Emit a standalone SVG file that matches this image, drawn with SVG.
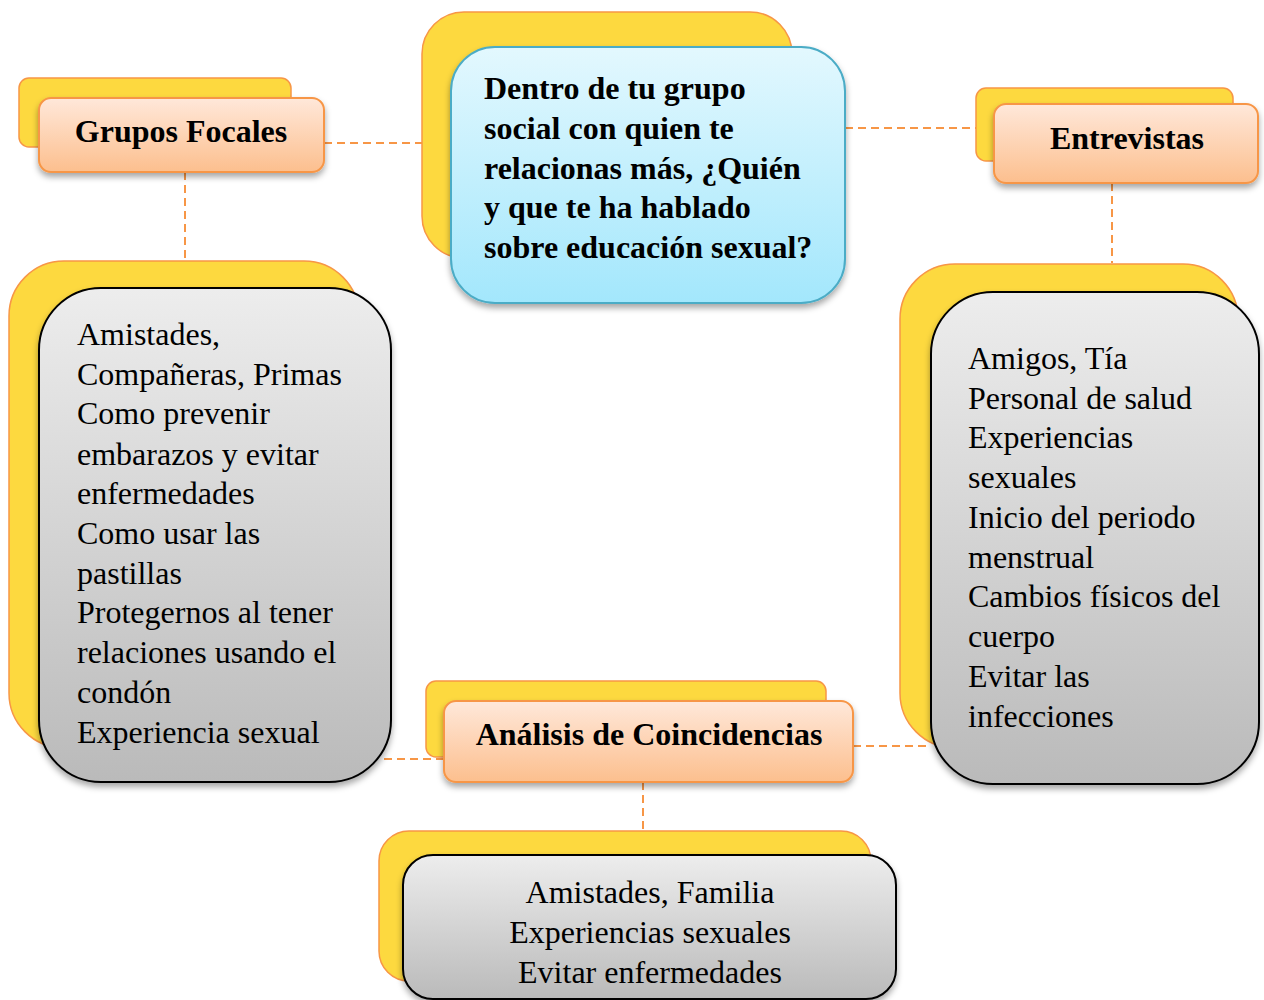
<svg xmlns="http://www.w3.org/2000/svg" width="1264" height="1000" viewBox="0 0 1264 1000">
<defs>
<linearGradient id="gOrange" x1="0" y1="0" x2="0" y2="1">
<stop offset="0" stop-color="#ffe8da"/>
<stop offset="1" stop-color="#fcbf8e"/>
</linearGradient>
<linearGradient id="gBlue" x1="0" y1="0" x2="0" y2="1">
<stop offset="0" stop-color="#e3f8fe"/>
<stop offset="1" stop-color="#a3e7fc"/>
</linearGradient>
<linearGradient id="gGray" x1="0" y1="0" x2="0" y2="1">
<stop offset="0" stop-color="#ededed"/>
<stop offset="1" stop-color="#bababa"/>
</linearGradient>
<filter id="shadow" x="-10%" y="-10%" width="120%" height="130%">
<feDropShadow dx="0" dy="4" stdDeviation="3" flood-color="#000" flood-opacity="0.35"/>
</filter>
</defs>
<style>
.back{fill:#fdd93f;stroke:#f79646;stroke-width:1.5}
.hdr{fill:url(#gOrange);stroke:#f79646;stroke-width:2;filter:url(#shadow)}
.blue{fill:url(#gBlue);stroke:#4bacc6;stroke-width:2;filter:url(#shadow)}
.gray{fill:url(#gGray);stroke:#000;stroke-width:2;filter:url(#shadow)}
.conn{fill:none;stroke:#f79646;stroke-width:2;stroke-dasharray:8 5}
.bt{font-family:"Liberation Serif","Times New Roman",serif;font-weight:bold;font-size:32px;fill:#000}
.rt{font-family:"Liberation Serif","Times New Roman",serif;font-size:32px;fill:#000}
</style>

<g id="connectors">
<line class="conn" x1="324" y1="143" x2="422" y2="143"/>
<line class="conn" x1="845" y1="128" x2="976" y2="128"/>
<line class="conn" x1="185" y1="172" x2="185" y2="262"/>
<line class="conn" x1="1112" y1="183" x2="1112" y2="263"/>
<line class="conn" x1="384" y1="759" x2="444" y2="759"/>
<line class="conn" x1="853" y1="746" x2="931" y2="746"/>
<line class="conn" x1="643" y1="782" x2="643" y2="831"/>
</g>

<g id="node-central">
<rect class="back" x="422" y="12" width="370" height="246" rx="42"/>
<rect class="blue" x="451" y="47" width="394" height="256" rx="44"/>
<text class="bt" x="484" y="99">Dentro de tu grupo</text>
<text class="bt" x="484" y="139">social con quien te</text>
<text class="bt" x="484" y="179">relacionas más, ¿Quién</text>
<text class="bt" x="484" y="218">y que te ha hablado</text>
<text class="bt" x="484" y="258">sobre educación sexual?</text>
</g>

<g id="node-grupos-focales">
<rect class="back" x="19" y="78" width="272" height="69" rx="10"/>
<rect class="hdr" x="39" y="98" width="285" height="74" rx="12"/>
<text class="bt" x="181" y="142" text-anchor="middle">Grupos Focales</text>
</g>

<g id="node-entrevistas">
<rect class="back" x="976" y="88" width="257" height="73" rx="10"/>
<rect class="hdr" x="994" y="104" width="264" height="79" rx="12"/>
<text class="bt" x="1127" y="149" text-anchor="middle">Entrevistas</text>
</g>

<g id="node-grupos-detalle">
<rect class="back" x="9" y="261" width="350" height="487" rx="55"/>
<rect class="gray" x="39" y="288" width="352" height="494" rx="62"/>
<text class="rt" x="77" y="345">Amistades,</text>
<text class="rt" x="77" y="385">Compañeras, Primas</text>
<text class="rt" x="77" y="424">Como prevenir</text>
<text class="rt" x="77" y="465">embarazos y evitar</text>
<text class="rt" x="77" y="504">enfermedades</text>
<text class="rt" x="77" y="544">Como usar las</text>
<text class="rt" x="77" y="584">pastillas</text>
<text class="rt" x="77" y="623">Protegernos al tener</text>
<text class="rt" x="77" y="663">relaciones usando el</text>
<text class="rt" x="77" y="703">condón</text>
<text class="rt" x="77" y="743">Experiencia sexual</text>
</g>

<g id="node-entrevistas-detalle">
<rect class="back" x="900" y="264" width="338" height="484" rx="55"/>
<rect class="gray" x="931" y="292" width="328" height="492" rx="62"/>
<text class="rt" x="968" y="369">Amigos, Tía</text>
<text class="rt" x="968" y="409">Personal de salud</text>
<text class="rt" x="968" y="448">Experiencias</text>
<text class="rt" x="968" y="488">sexuales</text>
<text class="rt" x="968" y="528">Inicio del periodo</text>
<text class="rt" x="968" y="568">menstrual</text>
<text class="rt" x="968" y="607">Cambios físicos del</text>
<text class="rt" x="968" y="647">cuerpo</text>
<text class="rt" x="968" y="687">Evitar las</text>
<text class="rt" x="968" y="727">infecciones</text>
</g>

<g id="node-analisis">
<rect class="back" x="426" y="681" width="400" height="76" rx="10"/>
<rect class="hdr" x="444" y="701" width="409" height="81" rx="12"/>
<text class="bt" x="649" y="745" text-anchor="middle">Análisis de Coincidencias</text>
</g>

<g id="node-analisis-detalle">
<rect class="back" x="379" y="831" width="492" height="150" rx="30"/>
<rect class="gray" x="403" y="855" width="493" height="144" rx="30"/>
<text class="rt" x="650" y="903" text-anchor="middle">Amistades, Familia</text>
<text class="rt" x="650" y="943" text-anchor="middle">Experiencias sexuales</text>
<text class="rt" x="650" y="983" text-anchor="middle">Evitar enfermedades</text>
</g>
</svg>
